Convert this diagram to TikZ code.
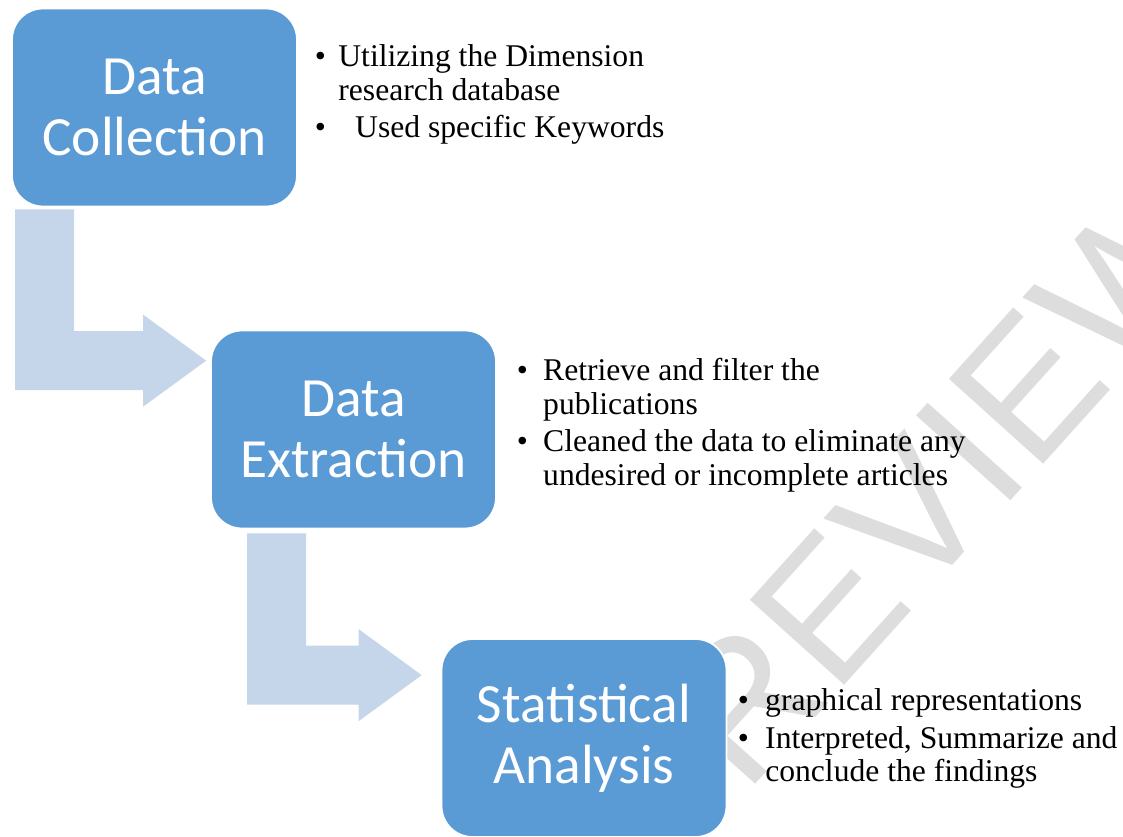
\documentclass[tikz,border=0pt]{standalone}
\usepackage{fontspec}
\setmainfont{Liberation Serif}
\newfontfamily\stagefont{Carlito}
\newfontfamily\markfont{Liberation Sans}
\usetikzlibrary{calc}

\definecolor{stageblue}{HTML}{5B9BD5}
\definecolor{flowblue}{HTML}{C5D5EA}
\definecolor{markgray}{HTML}{DDDDDD}

\newcommand{\bitem}[2][15pt]{\makebox[#1][l]{\textbullet}\begin{tabular}[t]{@{}l@{}}#2\end{tabular}}
\def\bentarrow(#1)(#2){\fill[flowblue] let \p1=(#1), \p2=(#2) in
	(\x1,\y1) -- ({\x1+1.18cm},\y1) -- ({\x1+1.18cm},{\y2+0.59cm}) -- ({\x2-1.26cm},{\y2+0.59cm})
	-- ({\x2-1.26cm},{\y2+0.92cm}) -- (\x2,\y2) -- ({\x2-1.26cm},{\y2-0.92cm})
	-- ({\x2-1.26cm},{\y2-0.59cm}) -- (\x1,{\y2-0.59cm}) -- cycle;}

\begin{document}
\begin{tikzpicture}[x=0.02cm, y=-0.02cm,
	stage/.style={draw=white, line width=1pt, fill=stageblue, rounded corners=0.62cm,
		minimum width=5.7cm, minimum height=3.96cm, align=center, text=white, inner sep=0pt,
		font=\stagefont\fontsize{31.5}{35}\selectfont},
	bullets/.style={anchor=base west, inner sep=0pt, font=\fontsize{18}{18.8}\selectfont}]
			%%%%% START %%%%%
			\useasboundingbox (0,0) rectangle (1123,837);
			
			\node[rotate=48, text=markgray, font=\markfont\fontsize{105}{105}\selectfont] (mark) at (901,528) {PREVIEW};
			
			\node[stage] (collect) at (154.5,107.5) {Data\\Collection};
			\node[stage] (extract) at (353.5,429.5) {Data\\Extraction};
			\node[stage] (stats) at (584,738) {Statistical\\Analysis};
			
			\coordinate (a1) at ($(collect.south west)+(4,2)$);
			\coordinate (t1) at ($(extract.north west)+(-4,31)$);
			\bentarrow(a1)(t1)
			\coordinate (a2) at ($(extract.south west)+(37,4)$);
			\coordinate (t2) at ($(stats.north west)+(-19,37)$);
			\bentarrow(a2)(t2)
			
			\node[bullets] (collectA) at (314.5,67) {\bitem[13.4pt]{Utilizing the Dimension\\research database}};
			\node[bullets] (collectB) at (314.5,138) {\bitem[23pt]{Used specific Keywords}};
			
			\node[bullets] (extractA) at (516.5,381) {\bitem{Retrieve and filter the\\publications}};
			\node[bullets] (extractB) at (516.5,452) {\bitem{Cleaned the data to eliminate any\\undesired or incomplete articles}};
			
			\node[bullets] (statsA) at (737.5,710) {\bitem[15.6pt]{graphical representations}};
			\node[bullets] (statsB) at (737.5,748) {\bitem[15.6pt]{Interpreted, Summarize and\\conclude the findings}};
			%%%%% END %%%%%
\end{tikzpicture}
\end{document}
